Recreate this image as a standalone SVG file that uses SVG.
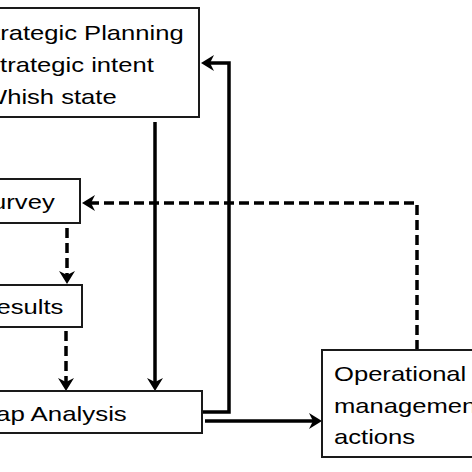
<svg xmlns="http://www.w3.org/2000/svg" width="472" height="472" viewBox="0 0 472 472">
<style>
  .box { fill: #ffffff; stroke: #1a1a1a; stroke-width: 2; }
  .lbl { font-family: "Liberation Sans", Arial, sans-serif; font-size: 21px; fill: #000000; }
  .conn { fill: none; stroke: #000000; stroke-width: 3.5; }
  .dash { stroke-dasharray: 10 5; }
</style>
<defs>
  <marker id="arr" markerUnits="userSpaceOnUse" viewBox="-10 -10 20 20" markerWidth="20" markerHeight="20" refX="0" refY="0" orient="auto" overflow="visible">
    <path d="M5,0 L-8,-8 L-4,0 L-8,8 Z" fill="#000000"/>
  </marker>
</defs>
<rect width="472" height="472" fill="#ffffff"/>

<g id="connectors">
  <path class="conn" d="M155,122 L155,386" marker-end="url(#arr)"/>
  <path class="conn" d="M203,412 L229,412 L229,63 L206,63" marker-end="url(#arr)"/>
  <path class="conn" d="M205,421 L317,421" marker-end="url(#arr)"/>
  <path class="conn dash" d="M417,350 L417,203 L87,203" marker-end="url(#arr)"/>
  <path class="conn dash" d="M67,228 L67,279" marker-end="url(#arr)"/>
  <path class="conn dash" d="M66,331 L66,386" marker-end="url(#arr)"/>
</g>

<g id="strategic-planning">
  <rect class="box" x="-20" y="8" width="219" height="109"/>
  <text class="lbl" x="-24" y="40" textLength="207.7" lengthAdjust="spacingAndGlyphs">Strategic Planning</text>
  <text class="lbl" x="-17" y="72" textLength="170.8" lengthAdjust="spacingAndGlyphs">Strategic intent</text>
  <text class="lbl" x="-17" y="104" textLength="133.7" lengthAdjust="spacingAndGlyphs">Whish state</text>
</g>

<g id="survey">
  <rect class="box" x="-40" y="179" width="120" height="44"/>
  <text class="lbl" x="-25" y="209" textLength="79.7" lengthAdjust="spacingAndGlyphs">Survey</text>
</g>

<g id="results">
  <rect class="box" x="-40" y="285" width="122" height="42"/>
  <text class="lbl" x="-22" y="314" textLength="85.4" lengthAdjust="spacingAndGlyphs">Results</text>
</g>

<g id="gap-analysis">
  <rect class="box" x="-40" y="391" width="242" height="42"/>
  <text class="lbl" x="-24" y="421" textLength="150.8" lengthAdjust="spacingAndGlyphs">Gap Analysis</text>
</g>

<g id="operational">
  <rect class="box" x="322" y="350" width="170" height="107"/>
  <text class="lbl" x="334" y="381" textLength="132.3" lengthAdjust="spacingAndGlyphs">Operational</text>
  <text class="lbl" x="334" y="413" textLength="149.4" lengthAdjust="spacingAndGlyphs">management</text>
  <text class="lbl" x="334" y="444" textLength="81.1" lengthAdjust="spacingAndGlyphs">actions</text>
</g>
</svg>
